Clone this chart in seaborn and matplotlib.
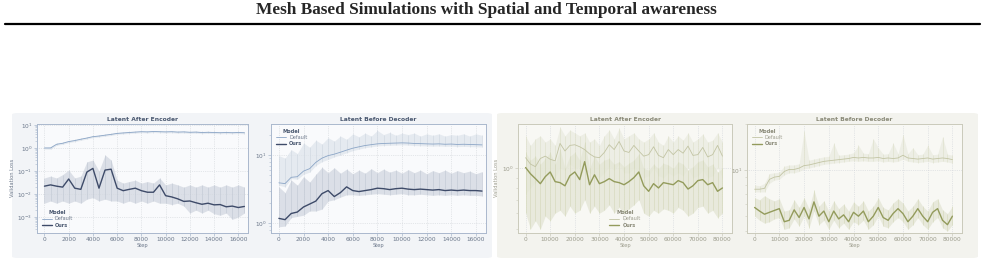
import numpy as np
import pandas as pd
import matplotlib.pyplot as plt
import seaborn as sns
from matplotlib.patches import FancyBboxPatch
from matplotlib.lines import Line2D
from matplotlib.ticker import NullFormatter

sns.set_style('whitegrid')
plt.rcParams['font.family'] = ['DejaVu Sans']

# ---- data ----
enc_steps = [0, 500, 1000, 1500, 2000, 2500, 3000, 3500, 4000, 4500, 5000, 5500, 6000, 6500, 7000, 7500,
             8000, 8500, 9000, 9500, 10000, 10500, 11000, 11500, 12000, 12500, 13000, 13500, 14000, 14500,
             15000, 15500, 16000, 16500]

# left panel, "Latent After Encoder"
enc_default = [1.0, 1.0, 1.45, 1.6, 1.9, 2.1, 2.4, 2.7, 3.1, 3.3, 3.6, 3.9, 4.3, 4.5, 4.7, 4.9, 5.1, 5.0, 5.2, 5.1,
               5.0, 5.1, 4.9, 5.0, 4.8, 4.9, 4.7, 4.8, 4.7, 4.6, 4.7, 4.6, 4.7, 4.6]
enc_default_lo = [0.9, 0.88, 1.3, 1.45, 1.7, 1.9, 2.15, 2.45, 2.8, 3.0, 3.25, 3.5, 3.9, 4.1, 4.25, 4.4, 4.6, 4.5,
                  4.7, 4.6, 4.5, 4.6, 4.4, 4.5, 4.3, 4.4, 4.2, 4.3, 4.2, 4.15, 4.2, 4.15, 4.2, 4.15]
enc_default_hi = [1.12, 1.15, 1.6, 1.78, 2.1, 2.35, 2.65, 3.0, 3.4, 3.65, 3.95, 4.3, 4.75, 4.95, 5.2, 5.4, 5.6,
                  5.5, 5.7, 5.6, 5.5, 5.6, 5.4, 5.5, 5.3, 5.4, 5.2, 5.3, 5.2, 5.1, 5.2, 5.1, 5.2, 5.1]
enc_ours = [0.022, 0.025, 0.022, 0.020, 0.045, 0.018, 0.016, 0.09, 0.13, 0.018, 0.11, 0.12, 0.018, 0.014,
            0.016, 0.018, 0.014, 0.012, 0.012, 0.025, 0.0085, 0.0075, 0.0062, 0.0048, 0.0050, 0.0042, 0.0036,
            0.0040, 0.0034, 0.0035, 0.0028, 0.0030, 0.0026, 0.0029]
enc_ours_lo = [0.004, 0.005, 0.004, 0.005, 0.004, 0.005, 0.004, 0.006, 0.007, 0.005, 0.006, 0.005, 0.005, 0.004,
               0.005, 0.004, 0.005, 0.004, 0.005, 0.004, 0.004, 0.0035, 0.004, 0.003, 0.0015, 0.002, 0.0015,
               0.002, 0.0014, 0.0012, 0.0015, 0.0008, 0.001, 0.0015]
enc_ours_hi = [0.05, 0.06, 0.05, 0.07, 0.11, 0.05, 0.06, 0.25, 0.3, 0.1, 0.5, 0.3, 0.04, 0.03, 0.035, 0.04, 0.03,
               0.035, 0.03, 0.05, 0.025, 0.03, 0.025, 0.02, 0.025, 0.02, 0.025, 0.02, 0.025, 0.02, 0.025, 0.02,
               0.025, 0.02]

# left panel, "Latent Before Decoder"
dec_default = [3.9, 3.8, 4.7, 4.8, 5.8, 6.3, 7.8, 9.0, 9.8, 10.3, 11.0, 11.8, 12.6, 13.2, 13.8, 14.2, 14.6, 14.8,
               14.9, 15.0, 15.1, 15.0, 14.8, 14.7, 14.6, 14.5, 14.6, 14.4, 14.5, 14.3, 14.4, 14.3, 14.2, 14.1]
dec_default_lo = [3.6, 3.4, 4.5, 4.4, 5.2, 5.6, 7.0, 8.0, 8.6, 9.4, 10.0, 10.8, 11.6, 12.2, 12.8, 13.2, 13.6,
                  13.8, 13.9, 14.0, 14.1, 14.0, 13.8, 13.7, 13.6, 13.5, 13.6, 13.4, 13.5, 13.3, 13.4, 13.3, 13.2, 13.1]
dec_default_hi = [9.8, 9.0, 12.0, 10.5, 15.0, 13.0, 16.5, 14.5, 18.0, 16.0, 19.0, 17.0, 20.5, 18.5, 21.0, 19.0,
                  23.0, 20.0, 21.5, 19.5, 21.0, 20.0, 21.0, 19.0, 20.5, 19.5, 20.5, 19.0, 20.0, 19.5, 20.5, 19.0,
                  20.5, 19.5]
dec_ours = [1.17, 1.12, 1.38, 1.45, 1.72, 1.9, 2.1, 2.7, 3.0, 2.45, 2.8, 3.4, 3.0, 2.9, 3.0, 3.1, 3.25, 3.2, 3.1,
            3.2, 3.25, 3.15, 3.1, 3.15, 3.1, 3.05, 3.1, 3.0, 3.05, 3.0, 3.05, 3.0, 3.0, 2.95]
dec_ours_lo = [0.88, 0.9, 1.2, 1.25, 1.3, 1.5, 1.5, 1.6, 2.1, 2.2, 2.4, 2.6, 2.6, 2.55, 2.6, 2.65, 2.7, 2.65, 2.6,
               2.65, 2.7, 2.6, 2.6, 2.65, 2.6, 2.55, 2.6, 2.55, 2.6, 2.55, 2.6, 2.55, 2.55, 2.5]
dec_ours_hi = [3.4, 2.8, 4.3, 3.6, 4.8, 4.0, 5.2, 6.6, 5.5, 6.5, 5.4, 6.2, 5.3, 6.0, 5.4, 6.3, 5.5, 6.2, 5.6, 6.0,
               5.4, 6.1, 5.5, 6.0, 5.3, 5.9, 5.5, 6.0, 5.4, 5.9, 5.5, 5.8, 5.3, 5.7]

ae_steps = [0, 2000, 4000, 6000, 8000, 10000, 12000, 14000, 16000, 18000, 20000, 22000, 24000, 26000, 28000,
            30000, 32000, 34000, 36000, 38000, 40000, 42000, 44000, 46000, 48000, 50000, 52000, 54000, 56000,
            58000, 60000, 62000, 64000, 66000, 68000, 70000, 72000, 74000, 76000, 78000, 80000]

# right panel, "Latent After Encoder"
ae_default = [1.13, 1.05, 1.02, 1.12, 1.15, 1.11, 1.09, 1.33, 1.22, 1.30, 1.31, 1.28, 1.24, 1.18, 1.14, 1.13,
              1.20, 1.31, 1.24, 1.36, 1.22, 1.20, 1.30, 1.22, 1.15, 1.17, 1.28, 1.16, 1.13, 1.24, 1.17, 1.24,
              1.19, 1.29, 1.16, 1.17, 1.27, 1.14, 1.17, 1.30, 1.15]
ae_default_lo = [0.75, 0.8, 0.85, 0.9, 0.95, 0.92, 0.9, 1.0, 0.98, 1.05, 1.0, 1.02, 0.98, 0.95, 0.92, 0.9, 0.95,
                 1.02, 0.98, 1.05, 0.95, 0.95, 1.0, 0.95, 0.9, 0.92, 1.0, 0.92, 0.9, 0.95, 0.92, 0.95, 0.92, 1.0,
                 0.9, 0.92, 0.98, 0.9, 0.92, 1.0, 0.9]
ae_default_hi = [1.45, 1.3, 1.4, 1.45, 1.35, 1.4, 1.3, 1.6, 1.45, 1.55, 1.5, 1.45, 1.5, 1.35, 1.4, 1.3, 1.45,
                 1.55, 1.4, 1.58, 1.4, 1.45, 1.5, 1.4, 1.35, 1.4, 1.5, 1.35, 1.3, 1.45, 1.35, 1.45, 1.38, 1.5,
                 1.35, 1.4, 1.48, 1.35, 1.38, 1.5, 1.35]
ae_ours = [1.01, 0.94, 0.89, 0.84, 0.91, 0.96, 0.86, 0.85, 0.82, 0.92, 0.96, 0.88, 1.08, 0.83, 0.93, 0.84, 0.86,
           0.89, 0.86, 0.85, 0.83, 0.86, 0.90, 0.96, 0.82, 0.77, 0.84, 0.80, 0.85, 0.84, 0.83, 0.87, 0.85, 0.79,
           0.82, 0.87, 0.88, 0.83, 0.85, 0.77, 0.80]
ae_ours_lo = [0.6, 0.5, 0.55, 0.5, 0.58, 0.55, 0.6, 0.62, 0.58, 0.65, 0.6, 0.62, 0.7, 0.6, 0.65, 0.6, 0.62, 0.66,
              0.6, 0.64, 0.6, 0.63, 0.66, 0.7, 0.6, 0.58, 0.62, 0.6, 0.63, 0.62, 0.6, 0.64, 0.62, 0.58, 0.6,
              0.64, 0.65, 0.6, 0.62, 0.57, 0.6]
ae_ours_hi = [1.2, 1.1, 1.15, 1.05, 1.12, 1.2, 1.05, 1.25, 1.0, 1.15, 1.2, 1.1, 1.35, 1.0, 1.15, 1.05, 1.1, 1.12,
              1.05, 1.08, 1.02, 1.06, 1.1, 1.18, 1.0, 0.98, 1.05, 1.0, 1.06, 1.04, 1.0, 1.08, 1.05, 0.98, 1.02,
              1.08, 1.1, 1.02, 1.05, 0.96, 1.0]

# right panel, "Latent Before Decoder"
bd_default = [7.5, 7.5, 7.6, 8.7, 9.0, 9.1, 9.8, 10.1, 10.1, 10.3, 10.7, 10.8, 11.0, 11.2, 11.4, 11.5, 11.6,
              11.7, 11.8, 11.9, 12.1, 12.0, 12.1, 12.0, 12.0, 12.1, 11.9, 12.0, 11.9, 12.0, 12.5, 12.0, 11.9,
              11.8, 11.9, 12.0, 11.8, 11.9, 12.0, 11.9, 11.7]
bd_default_lo = [7.2, 7.2, 7.2, 8.2, 8.6, 8.7, 9.3, 9.6, 9.6, 9.8, 10.2, 10.3, 10.5, 10.7, 10.9, 11.0, 11.1,
                 11.2, 11.3, 11.4, 11.5, 11.4, 11.5, 11.4, 11.4, 11.5, 11.3, 11.4, 11.3, 11.4, 11.8, 11.4, 11.3,
                 11.2, 11.3, 11.4, 11.2, 11.3, 11.4, 11.3, 11.1]
bd_default_hi = [8.0, 7.9, 8.2, 9.5, 9.6, 9.7, 10.6, 10.8, 10.8, 11.0, 18.0, 11.6, 11.8, 12.0, 12.2, 12.3, 15.0,
                 12.5, 12.6, 12.7, 13.0, 14.5, 12.9, 12.8, 16.0, 14.0, 12.7, 12.8, 15.0, 12.8, 17.0, 12.8, 14.0,
                 12.6, 12.7, 14.5, 12.6, 12.7, 16.5, 12.7, 12.5]
bd_ours = [5.7, 5.4, 5.15, 5.3, 5.45, 5.6, 4.6, 4.7, 5.5, 4.9, 5.7, 4.8, 6.2, 5.0, 5.4, 4.6, 5.4, 4.8, 5.1, 4.6,
           5.3, 5.0, 5.4, 4.6, 5.0, 5.7, 4.9, 4.7, 5.2, 5.6, 5.2, 4.6, 5.0, 5.6, 5.0, 4.6, 5.3, 5.6, 4.7, 4.4, 5.0]
bd_ours_lo = [5.0, 4.7, 4.5, 4.6, 4.8, 4.9, 4.1, 4.2, 4.8, 4.3, 5.0, 4.2, 5.4, 4.4, 4.7, 4.1, 4.7, 4.2, 4.5, 4.1,
              4.6, 4.4, 4.7, 4.1, 4.4, 5.0, 4.3, 4.2, 4.6, 4.9, 4.6, 4.1, 4.4, 4.9, 4.4, 4.1, 4.6, 4.9, 4.2, 4.0, 4.4]
bd_ours_hi = [6.6, 6.4, 6.8, 6.5, 6.3, 6.5, 5.4, 5.5, 6.4, 5.7, 6.6, 5.6, 7.4, 5.8, 6.3, 5.4, 6.3, 5.6, 6.0, 5.4,
              6.2, 5.8, 6.3, 5.4, 5.8, 6.6, 5.7, 5.5, 6.1, 6.5, 6.1, 5.4, 5.8, 6.5, 5.8, 5.4, 6.2, 6.5, 5.5, 5.2, 5.8]

models = ['Default', 'Ours']

blue_theme = dict(line={'Default': '#8ba5c6', 'Ours': '#3e4b69'},
                  band={'Default': '#dfe5ec', 'Ours': '#d2d7e0'},
                  streak={'Default': '#cdd5df', 'Ours': '#bfc6d2'},
                  spine='#aab8cd', title='#4a5870', tick='#6b778a', face='#f9fafc', panel='#f2f4f7')
olive_theme = dict(line={'Default': '#c2c4a4', 'Ours': '#939b5c'},
                   band={'Default': '#eaebe0', 'Ours': '#e3e5d4'},
                   streak={'Default': '#dcdec8', 'Ours': '#d3d7b8'},
                   spine='#cacabb', title='#8a8a78', tick='#9c9c8c', face='#f8f8f4', panel='#f3f3ee')

W, H = 985, 272
fig = plt.figure(figsize=(W / 100, H / 100), dpi=100)

# header of the paper page
fig.text(0.4935, 1 - 10.5 / H, 'Mesh Based Simulations with Spatial and Temporal awareness',
         ha='center', va='center', fontsize=12.4, fontweight='bold', family='Liberation Serif')
fig.add_artist(Line2D([5 / W, 980 / W], [1 - 24 / H, 1 - 24 / H], lw=1.6, color='black'))

# panel backgrounds, drawn below the axes
for x0, x1, th in [(12, 492, blue_theme), (497, 978, olive_theme)]:
    fig.patches.append(FancyBboxPatch((x0 / W, 14 / H), (x1 - x0) / W, 145 / H,
                                      boxstyle='round,pad=0,rounding_size=0.006',
                                      transform=fig.transFigure, fc=th['panel'], ec='none', zorder=-5))


def draw(rect, steps, default, default_lo, default_hi, ours, ours_lo, ours_hi, title, th, ylim,
         legend_loc, ylabel, xticks):
    ax = fig.add_axes(rect)
    ax.set_facecolor(th['face'])
    for name, lo, hi in [('Default', default_lo, default_hi), ('Ours', ours_lo, ours_hi)]:
        ax.fill_between(steps, lo, hi, color=th['band'][name], alpha=0.75, lw=0, zorder=1)
        ax.vlines(steps, lo, hi, color=th['streak'][name], lw=0.5, alpha=0.8, zorder=1.5)
    df = pd.DataFrame({'Step': steps + steps, 'Loss': default + ours,
                       'Model': ['Default'] * len(steps) + ['Ours'] * len(steps)})
    sns.lineplot(data=df, x='Step', y='Loss', hue='Model', size='Model', hue_order=models,
                 palette=th['line'], sizes={'Default': 0.6, 'Ours': 1.0}, errorbar=None, ax=ax, zorder=3)
    ax.set_yscale('log')
    ax.set_ylim(*ylim)
    ax.set_xlim(xticks[0] - (xticks[-1] - xticks[0]) * 0.04, xticks[-1] + (xticks[-1] - xticks[0]) * 0.05)
    ax.set_xticks(xticks)
    ax.yaxis.set_minor_formatter(NullFormatter())
    ax.grid(True, which='major', ls=':', lw=0.5, color='#cfd3d8')
    ax.grid(False, which='minor')
    for s in ax.spines.values():
        s.set_color(th['spine'])
        s.set_linewidth(0.7)
    ax.tick_params(which='both', left=True, bottom=True, labelsize=4.2, colors=th['spine'],
                   labelcolor=th['tick'], pad=1)
    ax.tick_params(which='major', length=2, width=0.5)
    ax.tick_params(which='minor', length=1.2, width=0.4)
    ax.set_title(title, fontsize=4.3, fontweight='bold', color=th['title'], pad=2)
    ax.set_xlabel('Step', fontsize=3.7, color=th['tick'], labelpad=1)
    ax.set_ylabel(ylabel, fontsize=3.7, color=th['tick'], labelpad=2)
    sns.move_legend(ax, legend_loc, frameon=False, fontsize=3.6, title_fontsize=3.7, handlelength=2.0,
                    labelspacing=0.25, borderaxespad=0.6, handletextpad=0.6)
    leg = ax.get_legend()
    leg.get_title().set_fontweight('bold')
    leg.get_title().set_color(th['title'])
    for t in leg.get_texts():
        t.set_color(th['tick'])
    leg.get_texts()[1].set_fontweight('bold')
    leg.get_texts()[1].set_color(th['title'])
    return ax


left_ticks = [0, 2000, 4000, 6000, 8000, 10000, 12000, 14000, 16000]
right_ticks = [0, 10000, 20000, 30000, 40000, 50000, 60000, 70000, 80000]
ax_h = 108.7 / H
ax_b = (H - 232.7) / H

draw([36.7 / W, ax_b, 211.3 / W, ax_h], enc_steps, enc_default, enc_default_lo, enc_default_hi,
     enc_ours, enc_ours_lo, enc_ours_hi, 'Latent After Encoder', blue_theme, (2.1e-4, 11),
     'lower left', 'Validation Loss', left_ticks)
draw([271 / W, ax_b, 214.7 / W, ax_h], enc_steps, dec_default, dec_default_lo, dec_default_hi,
     dec_ours, dec_ours_lo, dec_ours_hi, 'Latent Before Decoder', blue_theme, (0.72, 28.6),
     'upper left', '', left_ticks)
draw([517.7 / W, ax_b, 214.6 / W, ax_h], ae_steps, ae_default, ae_default_lo, ae_default_hi,
     ae_ours, ae_ours_lo, ae_ours_hi, 'Latent After Encoder', olive_theme, (0.48, 1.66),
     'lower center', 'Validation Loss', right_ticks)
draw([746.7 / W, ax_b, 215.6 / W, ax_h], ae_steps, bd_default, bd_default_lo, bd_default_hi,
     bd_ours, bd_ours_lo, bd_ours_hi, 'Latent Before Decoder', olive_theme, (3.9, 20),
     'upper left', '', right_ticks)

# caption line, mostly cut by the bottom edge of the crop as in the page
fig.text(0.487, -1.0 / H, 'Figure 7: Effect of the latent regularisation on the validation loss of the latent after '
         'the encoder and before the decoder, for the default model and ours.',
         ha='center', va='top', fontsize=10, family='Liberation Serif', color='#222222')

fig.savefig('out.png', dpi=100)
